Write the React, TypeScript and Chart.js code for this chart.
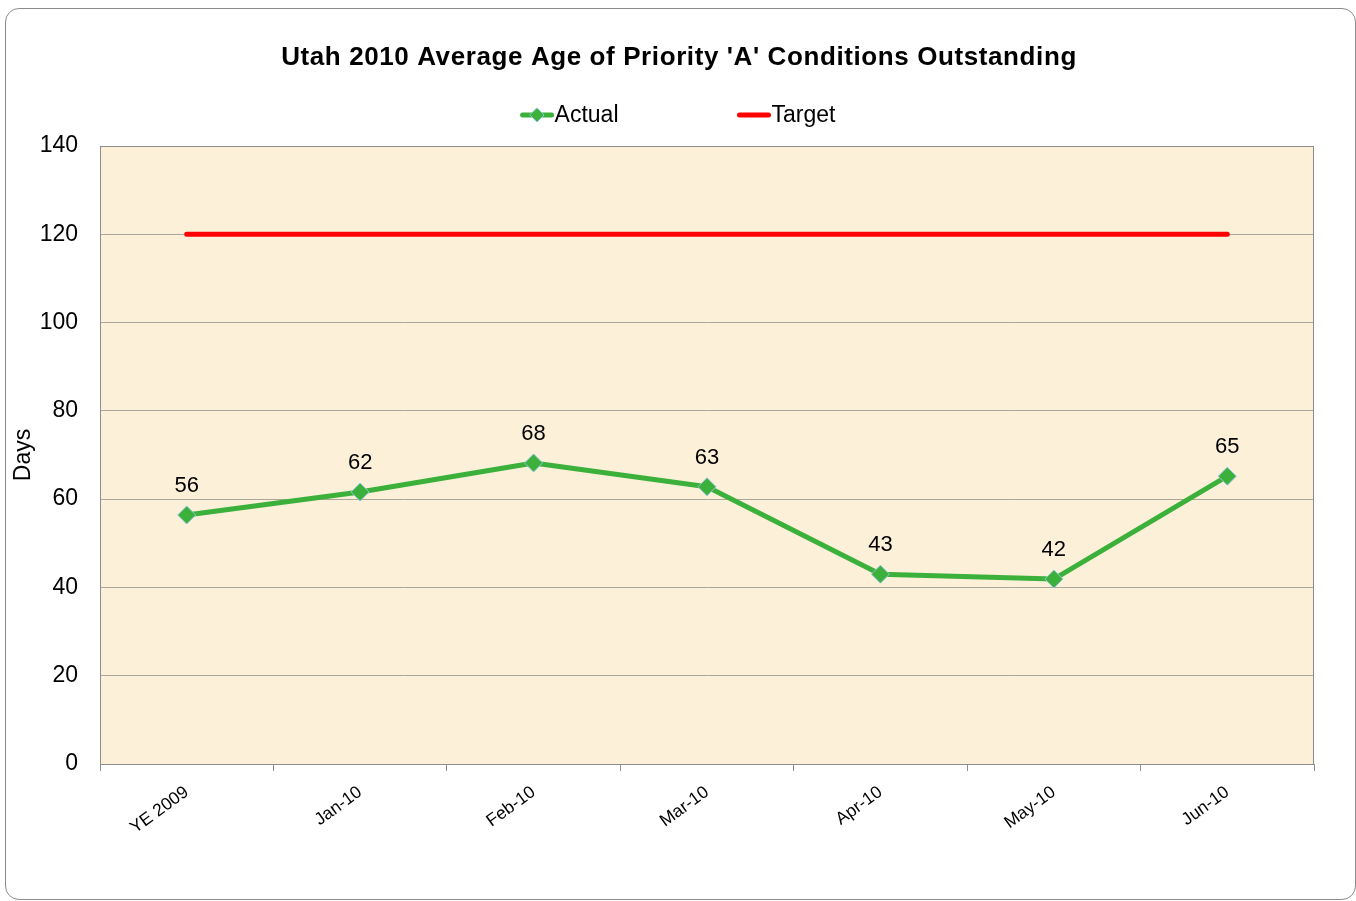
import React, { useEffect, useRef } from "react";
import { Chart, registerables } from "chart.js";

Chart.register(...registerables);

const categories = ["YE 2009", "Jan-10", "Feb-10", "Mar-10", "Apr-10", "May-10", "Jun-10"];
const actualValues = [56.4, 61.6, 68.2, 62.8, 43.0, 41.9, 65.2];
const targetValues = [120, 120, 120, 120, 120, 120, 120];
const yTicks = [0, 20, 40, 60, 80, 100, 120, 140];
const seriesNames = ["Actual", "Target"];
const titleText = "Utah 2010 Average Age of Priority 'A' Conditions Outstanding";
const yAxisTitle = "Days";

const FONT = "'Liberation Sans', Arial, sans-serif";
const GREEN = "#3BB03B";
const RED = "#FF0000";
const MARKER_BORDER = "#8EC6DC";
const PLOT_BG = "#FCF0D9";
const GRID = "#ABA69C";
const AXIS = "#8C8C8C";

const plotBackground = {
  id: "plotBackground",
  beforeDraw(chart: any) {
    const { ctx, chartArea } = chart;
    ctx.save();
    ctx.fillStyle = PLOT_BG;
    ctx.fillRect(chartArea.left, chartArea.top, chartArea.right - chartArea.left, chartArea.bottom - chartArea.top);
    ctx.restore();
  },
  beforeDatasetsDraw(chart: any) {
    const { ctx, chartArea } = chart;
    ctx.save();
    ctx.strokeStyle = AXIS;
    ctx.lineWidth = 1;
    ctx.strokeRect(chartArea.left + 0.5, chartArea.top + 0.5, chartArea.right - chartArea.left - 1, chartArea.bottom - chartArea.top);
    ctx.restore();
  },
};

const dataLabels = {
  id: "dataLabels",
  afterDatasetsDraw(chart: any) {
    const { ctx } = chart;
    const meta = chart.getDatasetMeta(0);
    const data = chart.data.datasets[0].data as number[];
    ctx.save();
    ctx.font = `22px ${FONT}`;
    ctx.fillStyle = "#000";
    ctx.textAlign = "center";
    ctx.textBaseline = "middle";
    meta.data.forEach((pt: any, i: number) => {
      ctx.fillText(String(Math.round(data[i])), pt.x, pt.y - 29);
    });
    ctx.restore();
  },
};

const titleAndLegend = {
  id: "titleAndLegend",
  afterDraw(chart: any) {
    const { ctx } = chart;
    ctx.save();
    // Title
    ctx.font = `bold 26px ${FONT}`;
    (ctx as any).letterSpacing = "0.6px";
    ctx.fillStyle = "#000";
    ctx.textAlign = "center";
    ctx.textBaseline = "middle";
    ctx.fillText(titleText, chart.width / 2 + 1, 58);
    (ctx as any).letterSpacing = "0px";

    // Legend
    ctx.font = `23px ${FONT}`;
    ctx.textAlign = "left";
    const sym = 33;
    const gap = 1;
    const itemGap = 119;
    const w1 = ctx.measureText(seriesNames[0]).width;
    const w2 = ctx.measureText(seriesNames[1]).width;
    const total = sym + gap + w1 + itemGap + sym + gap + w2;
    let x = chart.width / 2 - total / 2;
    const y = 115;
    ctx.strokeStyle = GREEN;
    ctx.lineWidth = 5;
    ctx.lineCap = "round";
    ctx.beginPath();
    ctx.moveTo(x + 2, y);
    ctx.lineTo(x + sym - 2, y);
    ctx.stroke();
    const cx = x + sym / 2;
    const r = 7;
    ctx.beginPath();
    ctx.moveTo(cx, y - r);
    ctx.lineTo(cx + r, y);
    ctx.lineTo(cx, y + r);
    ctx.lineTo(cx - r, y);
    ctx.closePath();
    ctx.fillStyle = GREEN;
    ctx.fill();
    ctx.lineWidth = 1;
    ctx.strokeStyle = MARKER_BORDER;
    ctx.stroke();
    ctx.fillStyle = "#000";
    ctx.fillText(seriesNames[0], x + sym + gap, y + 1);
    x += sym + gap + w1 + itemGap;
    ctx.strokeStyle = RED;
    ctx.lineWidth = 5;
    ctx.beginPath();
    ctx.moveTo(x + 2, y);
    ctx.lineTo(x + sym - 2, y);
    ctx.stroke();
    ctx.fillStyle = "#000";
    ctx.fillText(seriesNames[1], x + sym + gap, y + 1);
    ctx.restore();
  },
};

export default function App() {
  const ref = useRef<HTMLCanvasElement | null>(null);
  useEffect(() => {
    if (!ref.current) return;
    const chart = new Chart(ref.current, {
      type: "line",
      data: {
        labels: categories,
        datasets: [
          {
            label: seriesNames[0],
            data: actualValues,
            borderColor: GREEN,
            backgroundColor: GREEN,
            borderWidth: 5,
            pointStyle: "rectRot",
            pointRadius: 9,
            pointBackgroundColor: GREEN,
            pointBorderColor: MARKER_BORDER,
            pointBorderWidth: 1,
            tension: 0,
            borderCapStyle: "round",
            borderJoinStyle: "round",
          },
          {
            label: seriesNames[1],
            data: targetValues,
            borderColor: RED,
            backgroundColor: RED,
            borderWidth: 5,
            pointRadius: 0,
            tension: 0,
            borderCapStyle: "round",
          },
        ],
      },
      options: {
        responsive: false,
        animation: false,
        layout: { padding: { left: 0, right: 42, top: 146, bottom: 0 } },
        plugins: {
          legend: { display: false },
          tooltip: { enabled: false },
          title: { display: false },
        },
        scales: {
          x: {
            type: "category",
            offset: true,
            grid: {
              display: true,
              drawOnChartArea: false,
              drawTicks: true,
              tickLength: 7,
              color: AXIS,
              offset: true,
            },
            border: { display: true, color: AXIS, width: 1 },
            ticks: {
              color: "#000",
              font: { family: FONT, size: 17.5 },
              minRotation: 36,
              maxRotation: 36,
              autoSkip: false,
              padding: 11,
            },
            afterFit: (s: any) => {
              s.height = 901 - 764;
            },
          },
          y: {
            min: 0,
            max: 140,
            afterBuildTicks: (s: any) => {
              s.ticks = yTicks.map((v) => ({ value: v }));
            },
            grid: { color: GRID, lineWidth: 1, drawTicks: false },
            border: { display: true, color: AXIS, width: 1 },
            ticks: {
              color: "#000",
              font: { family: FONT, size: 23 },
              padding: 22,
            },
            title: {
              display: true,
              text: yAxisTitle,
              color: "#000",
              font: { family: FONT, size: 23 },
              padding: { top: 10, bottom: 0 },
            },
            afterFit: (s: any) => {
              s.width = 100;
            },
          },
        },
      },
      plugins: [plotBackground, dataLabels, titleAndLegend],
    });
    return () => chart.destroy();
  }, []);
  return (
    <div style={{ position: "absolute", left: 0, top: 0, width: 1356, height: 901, background: "#fff" }}>
      <div
        style={{
          position: "absolute",
          left: 5,
          top: 8,
          width: 1349,
          height: 890,
          border: "1px solid #8C8C8C",
          borderRadius: 14,
          boxSizing: "content-box",
        }}
      />
      <canvas ref={ref} width={1356} height={901} style={{ position: "absolute", left: 0, top: 0, width: 1356, height: 901 }} />
    </div>
  );
}
